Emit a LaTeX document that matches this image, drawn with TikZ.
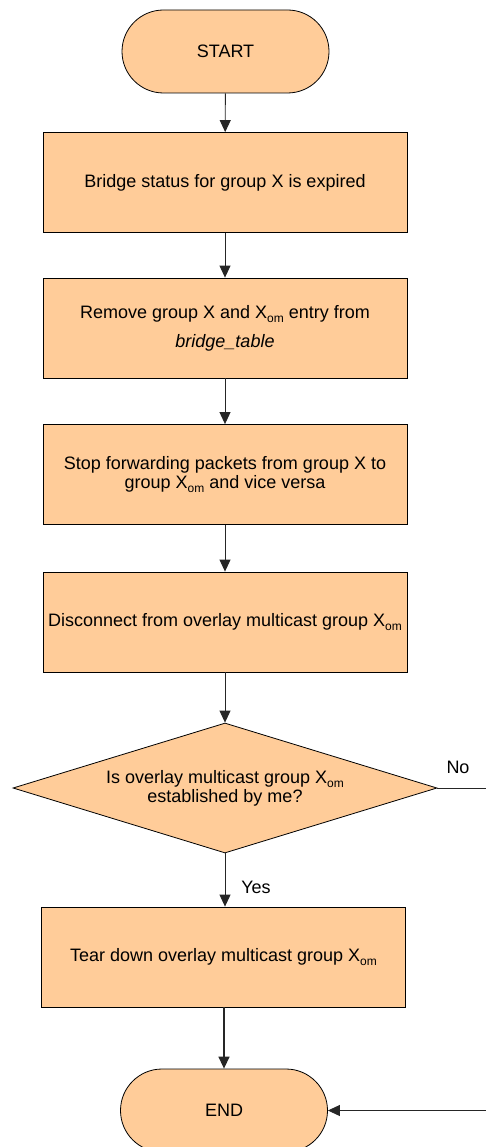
\documentclass[tikz,border=0pt]{standalone}
\usepackage{fontspec}
\setmainfont{Liberation Sans}
\usetikzlibrary{shapes.geometric,arrows.meta}
\definecolor{peach}{HTML}{FFCC99}
% subscript "om", set a little lower than the default \textsubscript
\newcommand{\om}{\raisebox{-4.5pt}{\fontsize{12}{12}\selectfont om}}
\begin{document}
\begin{tikzpicture}[x=1pt,y=-1pt,
  every node/.style={font=\fontsize{18}{19}\selectfont},
  stepbox/.style={draw=black,line width=0.8pt,fill=peach,rectangle,
    minimum width=364pt,minimum height=100pt,align=center,inner sep=0pt},
  terminal/.style={draw=black,line width=0.8pt,fill=peach,rectangle,
    rounded corners=41.5pt,minimum width=207pt,minimum height=83pt,inner sep=0pt},
  decision/.style={draw=black,line width=0.8pt,fill=peach,diamond,aspect=3.26,
    minimum width=424pt,minimum height=130pt,align=center,inner sep=0pt},
  flow/.style={draw=black!85,line width=0.9pt,-{Triangle[length=12pt,width=11pt]}},
  lbl/.style={inner sep=0pt}]
\useasboundingbox (0,0) rectangle (486,1147);
\begin{scope}
\clip (0,0) rectangle (486,1147);
\node[terminal] (start) at (225.5,51.5) {START};
\node[stepbox] (s1) at (225,182.5) {Bridge status for group X is expired};
\node[stepbox] (s2) at (225,328) {Remove group X and X\om{} entry from\\[10pt]\textit{bridge\_table}};
\node[stepbox] (s3) at (225,474.5) {Stop forwarding packets from group X to\\group X\om{} and vice versa};
\node[stepbox] (s4) at (225,622) {Disconnect from overlay multicast group X\om};
\node[decision] (q) at (225,788) {Is overlay multicast group X\om\\established by me?};
\node[stepbox] (s5) at (223.5,957) {Tear down overlay multicast group X\om};
\node[terminal] (end) at (224,1110.5) {END};
\end{scope}
\coordinate (noend) at (486,788);
\coordinate (back) at (486,1110.5);
\node[lbl] (no) at (458,767) {No};
\node[lbl] (yes) at (256,887) {Yes};

\draw[flow] (start) -- (s1);
\draw[flow] (s1) -- (s2);
\draw[flow] (s2) -- (s3);
\draw[flow] (s3) -- (s4);
\draw[flow] (s4.south) -- (q.north);
\draw[flow] (q.south) -- (s5.north -| q.south);
\draw[flow,line width=1.4pt] (s5.south -| end.north) -- (end.north);
\draw[draw=black!85,line width=0.9pt] (q.east) -- (noend);
\draw[flow] (back) -- (end.east);
\end{tikzpicture}
\end{document}
